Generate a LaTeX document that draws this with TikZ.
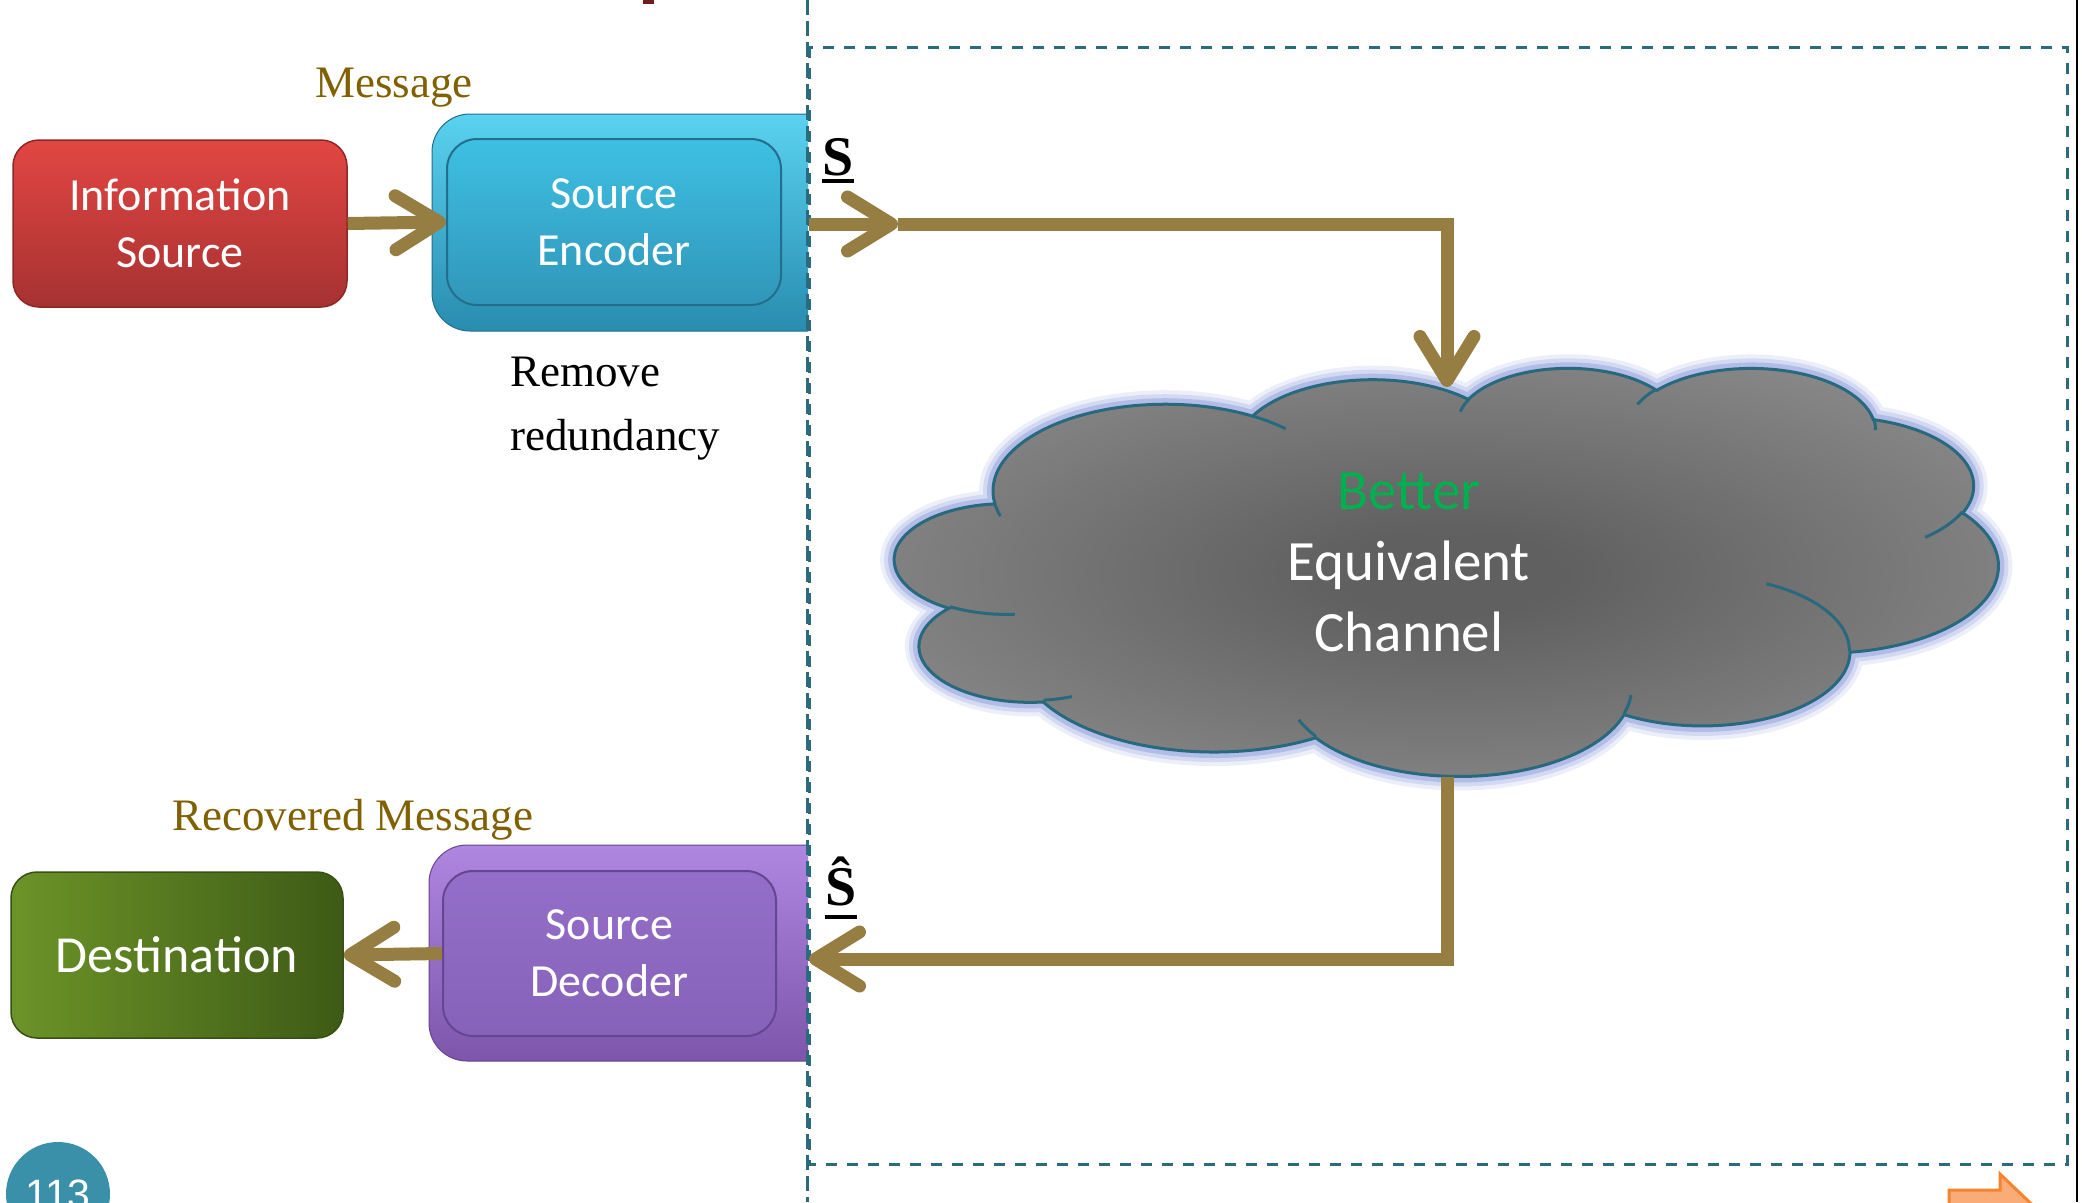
\documentclass[tikz,border=0pt]{standalone}
\usepackage{fontspec}
\setmainfont{Liberation Serif}
\newfontfamily\calib{Carlito}
\newfontfamily\arialf{Liberation Sans}
\usetikzlibrary{arrows.meta}
\definecolor{arrowc}{RGB}{150,125,66}
\definecolor{msgc}{RGB}{128,96,0}
\definecolor{dashc}{RGB}{43,107,126}
\definecolor{infoT}{RGB}{226,70,66}
\definecolor{infoB}{RGB}{166,50,50}
\definecolor{infoD}{RGB}{140,40,40}
\definecolor{encOT}{RGB}{90,210,240}
\definecolor{encOB}{RGB}{40,140,175}
\definecolor{encIT}{RGB}{62,192,226}
\definecolor{encIB}{RGB}{48,150,185}
\definecolor{encD}{RGB}{35,110,140}
\definecolor{decOT}{RGB}{175,135,225}
\definecolor{decOB}{RGB}{125,85,170}
\definecolor{decIT}{RGB}{148,110,200}
\definecolor{decIB}{RGB}{135,98,185}
\definecolor{decD}{RGB}{100,70,145}
\definecolor{destL}{RGB}{108,148,40}
\definecolor{destR}{RGB}{62,90,22}
\definecolor{destD}{RGB}{55,80,20}
\definecolor{cldark}{RGB}{96,96,96}
\definecolor{cllight}{RGB}{162,162,162}
\definecolor{clline}{RGB}{40,105,125}
\definecolor{glowc}{RGB}{150,165,222}
\definecolor{betterc}{RGB}{0,176,80}
\definecolor{pgc}{RGB}{58,144,168}
\definecolor{orgF}{RGB}{250,172,120}
\definecolor{orgD}{RGB}{245,132,46}
\definecolor{titlec}{RGB}{110,30,30}
\pgfdeclareradialshading{cloudshade}{\pgfpoint{0bp}{0bp}}{color(0bp)=(cldark); color(5bp)=(cldark); color(44bp)=(cllight); color(75bp)=(cllight)}
\newcommand\cprep[5]{%
  \pgfmathsetmacro\cta{atan2((#2)*sin(#4),(#3)*cos(#4))}%
  \pgfmathsetmacro\ctb{atan2((#2)*sin((#4)+(#5)),(#3)*cos((#4)+(#5)))}%
  \pgfmathsetmacro\cdd{\ctb-\cta}%
  \pgfmathsetmacro\cdd{\cdd-360*round((\cdd-(#5))/360)}%
  \expandafter\xdef\csname cl#1s\endcsname{\cta}%
  \expandafter\xdef\csname cl#1d\endcsname{\cdd}%
}
\begin{document}
\begin{tikzpicture}[x=1pt,y=-1pt,
  flow/.style={draw=arrowc, line width=13pt, -{Straight Barb[length=44pt,width=54pt,line cap=round,line join=round]}},
  boxtxt/.style={font=\calib\fontsize{46}{57}\selectfont, text=white, align=center, inner sep=0pt, rectangle},
  sertxt/.style={font=\fontsize{45}{64}\selectfont, inner sep=0pt},
  dashline/.style={draw=dashc, line width=3pt},
  cloudline/.style={draw=clline, line width=3pt}]
\useasboundingbox (0,0) rectangle (2082,1202);
% cloud geometry (preset cloud, units of 4320)
\cprep{A}{675.3}{919.0}{-190.4875}{123.7805}
\cprep{B}{533.3}{726.7}{-144.1024}{89.9452}
\cprep{C}{436.5}{594.5}{-145.8079}{99.7230}
\cprep{D}{485.7}{659.5}{-130.9861}{117.2417}
\cprep{E}{533.3}{727.3}{-78.7089}{109.0269}
\cprep{F}{677.5}{922.0}{-46.2673}{130.2690}
\cprep{G}{578.5}{786.7}{0.6250}{114.0333}
\cprep{H}{675.2}{921.5}{22.4516}{115.1726}
\cprep{I}{772.0}{1054.3}{66.2426}{75.7110}
\cprep{J}{436.0}{591.8}{-274.9421}{146.7356}
\cprep{K}{434.5}{594.5}{-246.8285}{152.5189}
\cprep{a}{434.5}{594.5}{86.7420}{26.4295}
\cprep{b}{436.0}{591.8}{73.6105}{11.4475}
\cprep{c}{675.2}{921.5}{137.6242}{14.0811}
\cprep{d}{675.2}{921.5}{6.4533}{15.9984}
\cprep{e}{578.5}{786.7}{-70.2924}{70.9174}
\cprep{f}{533.3}{727.3}{30.3180}{27.7515}
\cprep{g}{485.7}{659.5}{-13.7443}{14.8589}
\cprep{h}{485.7}{659.5}{-149.1815}{18.1954}
\cprep{i}{436.5}{594.5}{-163.4943}{17.6864}
\cprep{j}{675.3}{919.0}{-66.7070}{12.3194}
\cprep{k}{675.3}{919.0}{157.6544}{11.8582}
\def\cloudpath{(390,1437)
 arc[start angle=\clAs,delta angle=\clAd,x radius=675.3,y radius=919.0]
 arc[start angle=\clBs,delta angle=\clBd,x radius=533.3,y radius=726.7]
 arc[start angle=\clCs,delta angle=\clCd,x radius=436.5,y radius=594.5]
 arc[start angle=\clDs,delta angle=\clDd,x radius=485.7,y radius=659.5]
 arc[start angle=\clEs,delta angle=\clEd,x radius=533.3,y radius=727.3]
 arc[start angle=\clFs,delta angle=\clFd,x radius=677.5,y radius=922.0]
 arc[start angle=\clGs,delta angle=\clGd,x radius=578.5,y radius=786.7]
 arc[start angle=\clHs,delta angle=\clHd,x radius=675.2,y radius=921.5]
 arc[start angle=\clIs,delta angle=\clId,x radius=772.0,y radius=1054.3]
 arc[start angle=\clJs,delta angle=\clJd,x radius=436.0,y radius=591.8]
 arc[start angle=\clKs,delta angle=\clKd,x radius=434.5,y radius=594.5]
 -- cycle}
\begin{scope}[shift={(895,367)},x=0.25532pt,y=-0.094444pt]
  \draw[glowc,line width=28pt,opacity=0.18,line join=round] \cloudpath;
  \draw[glowc,line width=20pt,opacity=0.3,line join=round] \cloudpath;
  \draw[glowc,line width=12pt,opacity=0.55,line join=round] \cloudpath;
  \shadedraw[shading=cloudshade,cloudline] \cloudpath;
  \draw[cloudline] (469.3,2617.7) arc[start angle=\clas,delta angle=\clad,x radius=434.5,y radius=594.5];
  \draw[cloudline] (692.8,3489.9) arc[start angle=\clbs,delta angle=\clbd,x radius=436.0,y radius=591.8];
  \draw[cloudline] (1647.8,3909.0) arc[start angle=\clcs,delta angle=\clcd,x radius=675.2,y radius=921.5];
  \draw[cloudline] (2882.7,3475.1) arc[start angle=\clds,delta angle=\cldd,x radius=675.2,y radius=921.5];
  \draw[cloudline] (3412.9,2295.4) arc[start angle=\cles,delta angle=\cled,x radius=578.5,y radius=786.7];
  \draw[cloudline] (4179.8,1535.4) arc[start angle=\clfs,delta angle=\clfd,x radius=533.3,y radius=727.3];
  \draw[cloudline] (3832.4,542.6) arc[start angle=\clgs,delta angle=\clgd,x radius=485.7,y radius=659.5];
  \draw[cloudline] (2907.8,395.2) arc[start angle=\clhs,delta angle=\clhd,x radius=485.7,y radius=659.5];
  \draw[cloudline] (2214.1,472.0) arc[start angle=\clis,delta angle=\clid,x radius=436.5,y radius=594.5];
  \draw[cloudline] (1400.0,519.2) arc[start angle=\cljs,delta angle=\cljd,x radius=675.3,y radius=919.0];
  \draw[cloudline] (412.7,1578.9) arc[start angle=\clks,delta angle=\clkd,x radius=675.3,y radius=919.0];
\end{scope}
\node[font=\calib\fontsize{57}{71}\selectfont, text=white, align=center, inner sep=0pt] (cloud) at (1409,562)
  {\textcolor{betterc}{Better}\\Equivalent\\Channel};
\coordinate (ctop) at (1447,387);
\coordinate (cbot) at (1447,777);
% title sliver
\fill[titlec] (643,0) rectangle (654,4);
% boxes
\node[boxtxt, rounded corners=26pt, top color=infoT, bottom color=infoB, draw=infoD, line width=1.5pt,
  minimum width=334pt, minimum height=167pt] (info) at (180,223.5) {Information\\Source};
\begin{scope}
  \clip (0,0) rectangle (808,1202);
  \node[rectangle, rounded corners=38pt, top color=encOT, bottom color=encOB, draw=encD, line width=1pt,
    minimum width=428pt, minimum height=217pt] (encO) at (646,222.5) {};
  \node[rectangle, rounded corners=38pt, top color=decOT, bottom color=decOB, draw=decD, line width=1pt,
    minimum width=431pt, minimum height=216pt] (decO) at (644.5,953) {};
\end{scope}
\node[boxtxt, rounded corners=30pt, top color=encIT, bottom color=encIB, draw=encD, line width=2pt,
  minimum width=334pt, minimum height=166pt] (encIn) at (614,222) {Source\\Encoder};
\node[boxtxt, rounded corners=30pt, top color=decIT, bottom color=decIB, draw=decD, line width=2pt,
  minimum width=333pt, minimum height=165pt] (decIn) at (609.5,953.5) {Source\\Decoder};
\node[boxtxt, font=\calib\fontsize{52}{60}\selectfont, rounded corners=26pt, left color=destL, right color=destR,
  draw=destD, line width=1.5pt, minimum width=332pt, minimum height=166pt] (dest) at (177,955) {Destination};
% labels
\node[sertxt, text=msgc, anchor=base west] (msg) at (315,97) {Message};
\node[sertxt, text=msgc, anchor=base west] (rmsg) at (172,830) {Recovered Message};
\node[sertxt, anchor=north west, align=left] (rem) at (510,357) {Remove\\redundancy};
\node[font=\bfseries\fontsize{56}{60}\selectfont, inner sep=0pt, anchor=base west] (sLab) at (822,175) {S};
\draw[line width=3.5pt] ([yshift=-6pt]sLab.base west) -- ([yshift=-6pt]sLab.base east);
\node[font=\bfseries\fontsize{56}{60}\selectfont, inner sep=0pt, anchor=base west] (shLab) at (825,905) {Ŝ};
\draw[line width=3.5pt] ([yshift=-12pt]shLab.base west) -- ([yshift=-12pt]shLab.base east);
% dashed frame
\draw[dashline, dash pattern=on 15pt off 6pt] (807,0) -- (807,1202);
\draw[dashline, dash pattern=on 11pt off 10pt] (809,47) rectangle (2067,1164);
\draw[line width=2.5pt] (2077,0) -- (2077,1202);
% connectors
\coordinate (sOut) at (809,224);
\coordinate (mid1) at (898,224);
\coordinate (sIn) at (809,959);
\draw[flow] (info.east) -- (encIn.west);
\draw[flow] (sOut) -- (mid1);
\draw[flow] (mid1) -| (ctop);
\draw[flow] (cbot) |- (sIn);
\draw[flow] (decIn.west) -- (dest.east);
% page number and nav arrow
\node[circle, fill=pgc, minimum size=104pt, inner sep=0pt, text=white, font=\arialf\fontsize{41}{41}\selectfont] (pg) at (58,1194) {113};
\filldraw[fill=orgF, draw=orgD, line width=3pt] (1949,1190) -- (2000,1190) -- (2000,1174) -- (2090,1260) -- (2000,1346) -- (2000,1330) -- (1949,1330) -- cycle;
\end{tikzpicture}
\end{document}
